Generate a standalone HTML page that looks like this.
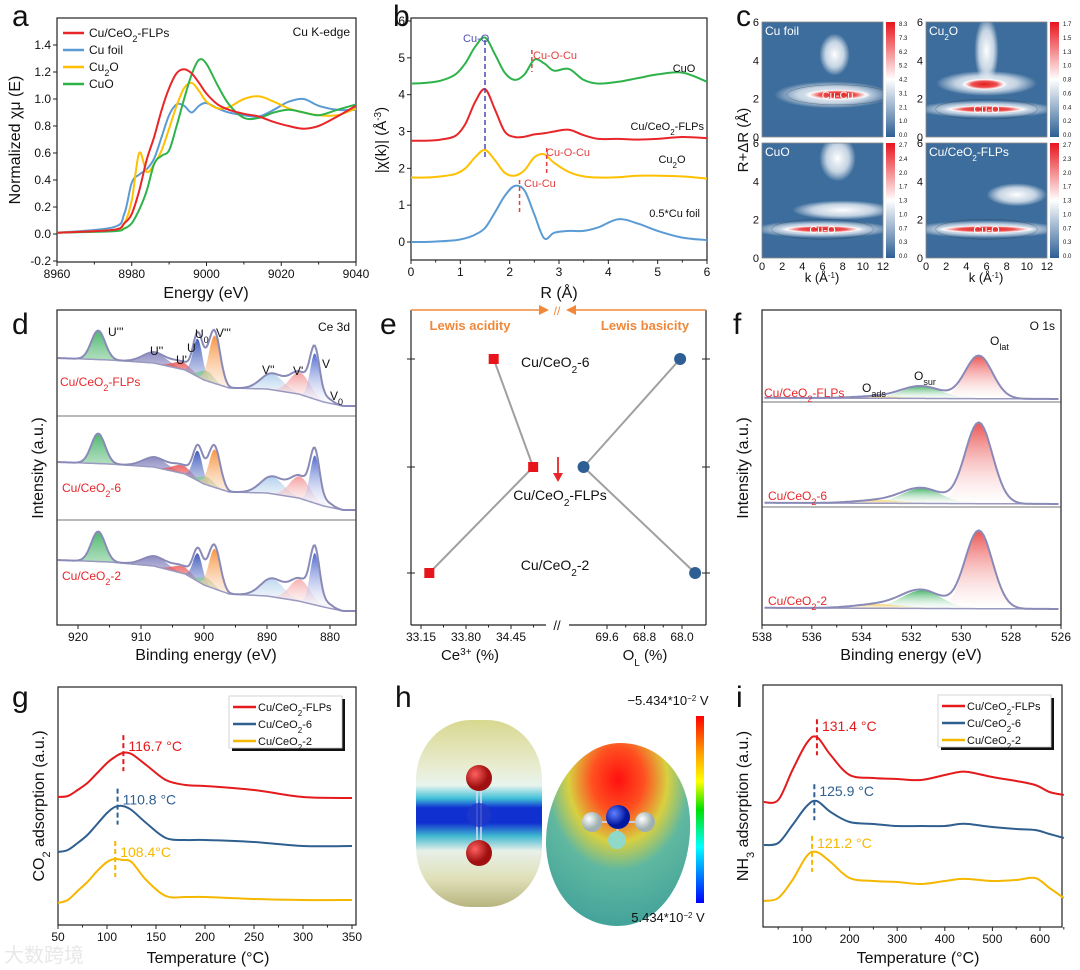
<!DOCTYPE html>
<html><head><meta charset="utf-8"><style>
html,body{margin:0;padding:0;background:#fff;}
svg{display:block;font-family:"Liberation Sans",Arial,sans-serif;}
</style></head><body>
<svg id="fig" width="1080" height="970" viewBox="0 0 1080 970" xmlns="http://www.w3.org/2000/svg">
<defs>
<radialGradient id="gw"><stop offset="0" stop-color="#fff" stop-opacity="1"/><stop offset="0.6" stop-color="#e8eef5" stop-opacity="0.8"/><stop offset="1" stop-color="#fff" stop-opacity="0"/></radialGradient>
<radialGradient id="gr"><stop offset="0" stop-color="#e02020"/><stop offset="0.55" stop-color="#ee5050"/><stop offset="0.85" stop-color="#fff" stop-opacity="0.9"/><stop offset="1" stop-color="#fff" stop-opacity="0"/></radialGradient>
<linearGradient id="cbar" x1="0" y1="0" x2="0" y2="1"><stop offset="0" stop-color="#e8141c"/><stop offset="0.5" stop-color="#ffffff"/><stop offset="1" stop-color="#2d5f95"/></linearGradient>
<linearGradient id="esp" x1="0" y1="0" x2="0" y2="1"><stop offset="0" stop-color="#ff0000"/><stop offset="0.2" stop-color="#ffa000"/><stop offset="0.35" stop-color="#ffff00"/><stop offset="0.5" stop-color="#00e000"/><stop offset="0.7" stop-color="#00ffff"/><stop offset="1" stop-color="#0000ff"/></linearGradient>
<linearGradient id="co2" x1="0" y1="0" x2="0" y2="1"><stop offset="0" stop-color="#d8d890"/><stop offset="0.25" stop-color="#e8ecd0"/><stop offset="0.35" stop-color="#e8f4ee"/><stop offset="0.42" stop-color="#40c0d8"/><stop offset="0.47" stop-color="#1030d0"/><stop offset="0.55" stop-color="#1030d0"/><stop offset="0.62" stop-color="#40b8d0"/><stop offset="0.7" stop-color="#e8f0e8"/><stop offset="0.85" stop-color="#dfe0b8"/><stop offset="1" stop-color="#b8b480"/></linearGradient>
<radialGradient id="nh3" cx="0.5" cy="0.2" r="0.9"><stop offset="0" stop-color="#ff1010"/><stop offset="0.2" stop-color="#ff5020"/><stop offset="0.38" stop-color="#d8d040"/><stop offset="0.55" stop-color="#60b8a0"/><stop offset="1" stop-color="#3a9c98"/></radialGradient>
<radialGradient id="atomO" cx="0.35" cy="0.35"><stop offset="0" stop-color="#ff6060"/><stop offset="1" stop-color="#a01010"/></radialGradient>
<radialGradient id="atomN" cx="0.35" cy="0.35"><stop offset="0" stop-color="#6080ff"/><stop offset="1" stop-color="#0018a0"/></radialGradient>
<radialGradient id="atomH" cx="0.35" cy="0.35"><stop offset="0" stop-color="#ffffff"/><stop offset="1" stop-color="#a0b0b0"/></radialGradient>
<linearGradient id="fadeR" x1="0" y1="0" x2="0" y2="1"><stop offset="0" stop-color="#e83838"/><stop offset="1" stop-color="#fff" stop-opacity="0.3"/></linearGradient>
<linearGradient id="fadeG" x1="0" y1="0" x2="0" y2="1"><stop offset="0" stop-color="#2faa55"/><stop offset="1" stop-color="#fff" stop-opacity="0.3"/></linearGradient>
<linearGradient id="fadeB" x1="0" y1="0" x2="0" y2="1"><stop offset="0" stop-color="#2040b0"/><stop offset="1" stop-color="#fff" stop-opacity="0.3"/></linearGradient>
<linearGradient id="fadeLB" x1="0" y1="0" x2="0" y2="1"><stop offset="0" stop-color="#5a9ad8"/><stop offset="1" stop-color="#fff" stop-opacity="0.3"/></linearGradient>
<linearGradient id="fadeO" x1="0" y1="0" x2="0" y2="1"><stop offset="0" stop-color="#f58220"/><stop offset="1" stop-color="#fff" stop-opacity="0.3"/></linearGradient>
<linearGradient id="fadeP" x1="0" y1="0" x2="0" y2="1"><stop offset="0" stop-color="#7a78b8"/><stop offset="1" stop-color="#fff" stop-opacity="0.3"/></linearGradient>
<linearGradient id="fadeY" x1="0" y1="0" x2="0" y2="1"><stop offset="0" stop-color="#f5c040"/><stop offset="1" stop-color="#fff" stop-opacity="0.3"/></linearGradient>
<linearGradient id="fadeN" x1="0" y1="0" x2="0" y2="1"><stop offset="0" stop-color="#3050c8"/><stop offset="1" stop-color="#fff" stop-opacity="0.3"/></linearGradient>
</defs>
</svg>
<script>
// ---------- DATA ----------
const aEnergy = [8960,8975,8978,8980,8982,8984,8986,8988,8990,8992,8994,8996,8998,9000,9003,9006,9010,9014,9018,9022,9026,9030,9035,9040];
const aFLPs  = [0.01,0.03,0.08,0.15,0.32,0.55,0.72,0.92,1.08,1.19,1.22,1.19,1.12,1.04,0.96,0.92,0.89,0.87,0.83,0.80,0.78,0.80,0.87,0.95];
const aCuFoil= [0.01,0.05,0.15,0.38,0.44,0.48,0.56,0.72,0.88,0.96,0.95,0.90,0.95,0.97,0.93,0.90,0.88,0.87,0.92,0.98,1.00,0.95,0.92,0.92];
const aCu2O  = [0.01,0.03,0.08,0.25,0.60,0.46,0.52,0.62,0.78,0.95,1.08,1.12,1.06,0.98,0.93,0.94,1.00,1.02,0.98,0.93,0.90,0.88,0.88,0.93];
const aCuO   = [0.01,0.02,0.04,0.08,0.18,0.32,0.52,0.58,0.62,0.80,1.00,1.18,1.29,1.26,1.10,0.96,0.86,0.86,0.90,0.92,0.90,0.88,0.92,0.96];
const bR = [0,0.3,0.6,0.9,1.1,1.3,1.5,1.7,1.9,2.1,2.3,2.5,2.7,2.9,3.2,3.5,3.8,4.2,4.6,5.0,5.5,6.0];
const bCuO  = [4.30,4.32,4.38,4.55,4.85,5.30,5.55,5.10,4.60,4.40,4.55,4.95,4.85,4.65,4.70,4.40,4.30,4.35,4.45,4.55,4.60,4.35];
const bFLPs = [2.75,2.75,2.78,2.88,3.20,3.80,4.15,3.60,3.00,2.85,2.86,2.92,2.95,3.00,3.05,2.90,2.80,2.80,2.78,2.80,2.85,2.82];
const bCu2O = [1.75,1.75,1.78,1.85,2.00,2.30,2.50,2.22,1.88,1.80,1.95,2.30,2.38,2.15,1.90,1.78,1.75,1.76,1.80,1.80,1.78,1.72];
const bFoil = [0.00,0.00,0.02,0.05,0.10,0.20,0.38,0.80,1.25,1.52,1.40,0.75,0.10,0.25,0.30,0.30,0.40,0.62,0.50,0.30,0.12,0.05];
const dPeakNames = ["U'''","U''","U'","U","U0","V'''","V''","V'","V","V0"];
const dCenters = [916.8,907.8,903.5,901.0,899.6,898.3,889.2,884.8,882.4,880.4];
const dSigma   = [1.1,1.9,1.5,0.75,1.1,0.9,1.8,1.6,0.75,0.9];
const dHeightsFLPs = [29,11,7,38,10,48,16,22,46,4];
const dHeights6    = [30,10,8,30,8,38,17,22,48,4];
const dHeights2    = [30,10,7,28,8,40,18,22,52,4];
const dBgBE  = [923.3,915,908,903,900,896,890,885,881,878,875.8];
const dBgFLPs= [358,360,363,370,380,388,389,394,402,406,406];
const dBg6   = [462,464,467,474,484,492,493,498,506,510,510];
const dBg2   = [560,562,566,574,585,594,596,601,607,611,611];
const eCe3 = [34.20,34.77,33.27];
const eOL  = [68.04,70.10,67.72];
const eSamples = ["Cu/CeO2-6","Cu/CeO2-FLPs","Cu/CeO2-2"];
const fCenters = [529.3,531.6,533.3];
const fSigma = [0.55,0.8,1.0];
const fHeightsFLPs = [43,12,2];
const fHeights6 = [81,15,3];
const fHeights2 = [78,18,4];
const fBaseline = [399,504,609];
const gT = [50,60,70,80,90,100,108,116,125,140,160,180,200,250,300,350];
const gFLPs = [797,796,790,783,773,763,757,753,754,765,780,785,786,790,797,798];
const g6    = [852,850,843,835,824,813,807,806,810,823,838,840,840,842,846,846];
const g2    = [903,900,891,882,871,862,859,860,862,880,896,897,897,899,900,900];
const gPeaks = [116.7,110.8,108.4];
const iT = [20,50,80,110,131,160,200,250,300,350,400,430,450,500,550,590,620,650];
const iFLPs = [802,800,770,743,737,755,775,778,779,780,775,772,772,777,781,785,792,795];
const i6    = [845,843,825,806,801,812,822,824,826,826,826,824,824,827,829,830,834,838];
const i2    = [901,898,880,856,852,862,878,881,882,884,881,879,879,881,880,878,888,898];
const iPeaks = [131.4,125.9,121.2];

// ---------- HELPERS ----------
const NS='http://www.w3.org/2000/svg';
const svg=document.getElementById('fig');
function mk(tag, attrs, name, parent){
  const e=document.createElementNS(NS,tag);
  for(const k in attrs) e.setAttribute(k,attrs[k]);
  
  
  (parent||svg).appendChild(e);
  return e;
}
function lin(d0,d1,r0,r1){return v=>r0+(v-d0)*(r1-r0)/(d1-d0);}
function txt(x,y,html,name,opts){
  opts=opts||{};
  const a={x:x,y:y,'font-size':opts.size||12,fill:opts.fill||'#111','text-anchor':opts.anchor||'start'};
  if(opts.weight) a['font-weight']=opts.weight;
  if(opts.rot) a.transform='rotate('+opts.rot+' '+x+' '+y+')';
  const t=mk('text',a,name,opts.parent);
  t.innerHTML=html;
  return t;
}
function smooth(pts){
  let d='M'+pts[0][0].toFixed(1)+','+pts[0][1].toFixed(1);
  for(let i=0;i<pts.length-1;i++){
    const p0=pts[Math.max(0,i-1)],p1=pts[i],p2=pts[i+1],p3=pts[Math.min(pts.length-1,i+2)];
    const c1=[p1[0]+(p2[0]-p0[0])/6,p1[1]+(p2[1]-p0[1])/6];
    const c2=[p2[0]-(p3[0]-p1[0])/6,p2[1]-(p3[1]-p1[1])/6];
    d+=' C'+c1[0].toFixed(1)+','+c1[1].toFixed(1)+' '+c2[0].toFixed(1)+','+c2[1].toFixed(1)+' '+p2[0].toFixed(1)+','+p2[1].toFixed(1);
  }
  return d;
}
function line(xs,ys,sx,sy,color,name,w){
  const pts=xs.map((x,i)=>[sx(x),sy(ys[i])]);
  return mk('path',{d:smooth(pts),fill:'none',stroke:color,'stroke-width':w||2,'stroke-linejoin':'round'},name);
}
function frame(x0,y0,x1,y1,name){
  return mk('rect',{x:x0,y:y0,width:x1-x0,height:y1-y0,fill:'none',stroke:'#222','stroke-width':1.2},name);
}
function xTicks(vals,sx,yb,labels,name,minor){
  vals.forEach((v,i)=>{
    mk('line',{x1:sx(v),x2:sx(v),y1:yb,y2:yb+4,stroke:'#222','stroke-width':1},name+'-tick');
    if(labels) txt(sx(v),yb+16,labels[i],name+'-label',{anchor:'middle',size:12});
  });
  (minor||[]).forEach(v=>mk('line',{x1:sx(v),x2:sx(v),y1:yb,y2:yb+2.5,stroke:'#222','stroke-width':1},name+'-minor-tick'));
}
function yTicks(vals,sy,xl,labels,name){
  vals.forEach((v,i)=>{
    mk('line',{x1:xl-4,x2:xl,y1:sy(v),y2:sy(v),stroke:'#222','stroke-width':1},name+'-tick');
    if(labels) txt(xl-6,sy(v)+4,labels[i],name+'-label',{anchor:'end',size:12});
  });
}
const rng=(a,b,s)=>{const r=[];for(let v=a;s>0?v<=b+1e-9:v>=b-1e-9;v+=s)r.push(+v.toFixed(4));return r;};
function panelLetter(x,y,l){txt(x,y,l,'panel-label-'+l,{size:30});}

// ---------- PANEL A ----------
panelLetter(12,26,'a');
const sxA=lin(8960,9040,57,356), syA=lin(0,1.4,234,45);
frame(57,18,356,262,'panel-a-frame');
const aX=rng(8960,9040,20);
xTicks(aX,sxA,262,aX.map(String),'a-x',rng(8970,9030,20));
const aY=rng(-0.2,1.4,0.2);
yTicks(aY,syA,57,aY.map(v=>v.toFixed(1)),'a-y');
txt(206,298,'Energy (eV)','a-x-title',{anchor:'middle',size:16});
txt(20,140,'Normalized χμ (E)','a-y-title',{anchor:'middle',size:16,rot:-90});
line(aEnergy,aCuFoil,sxA,syA,'#5b9bd5','a-line-cu-foil');
line(aEnergy,aCu2O,sxA,syA,'#ffc000','a-line-cu2o');
line(aEnergy,aCuO,sxA,syA,'#2db34a','a-line-cuo');
line(aEnergy,aFLPs,sxA,syA,'#e8262a','a-line-flps');
[['#e8262a','Cu/CeO<tspan baseline-shift="sub" font-size="9">2</tspan>-FLPs'],['#5b9bd5','Cu foil'],['#ffc000','Cu<tspan baseline-shift="sub" font-size="9">2</tspan>O'],['#2db34a','CuO']].forEach((e,i)=>{
  const y=33+i*17;
  mk('line',{x1:63,x2:84,y1:y,y2:y,stroke:e[0],'stroke-width':2.5},'a-legend-swatch');
  txt(89,y+4,e[1],'a-legend-entry',{size:12});
});
txt(350,36,'Cu K-edge','a-edge-label',{anchor:'end',size:12});

// ---------- PANEL B ----------
panelLetter(393,26,'b');
const sxB=lin(0,6,411,707), syB=lin(0,6,242,21);
frame(411,18,707,260,'panel-b-frame');
const bX=rng(0,6,1);
xTicks(bX,sxB,260,bX.map(String),'b-x',rng(0.5,5.5,1));
yTicks(bX,syB,411,bX.map(String),'b-y');
txt(559,298,'R (Å)','b-x-title',{anchor:'middle',size:16});
txt(386,140,'|χ(k)| (Å<tspan baseline-shift="super" font-size="10">-3</tspan>)','b-y-title',{anchor:'middle',size:15,rot:-90});
line(bR,bCuO,sxB,syB,'#2db34a','b-line-cuo');
line(bR,bFLPs,sxB,syB,'#e8262a','b-line-flps');
line(bR,bCu2O,sxB,syB,'#ffc000','b-line-cu2o');
line(bR,bFoil,sxB,syB,'#5b9bd5','b-line-cu-foil');
mk('line',{x1:sxB(1.5),x2:sxB(1.5),y1:40,y2:160,stroke:'#4a4ab0','stroke-width':1.5,'stroke-dasharray':'5,3'},'b-cu-o-marker');
txt(463,42,'Cu-O','b-cu-o-label',{size:11,fill:'#5050b8'});
mk('line',{x1:sxB(2.45),x2:sxB(2.45),y1:50,y2:72,stroke:'#e04040','stroke-width':1.5,'stroke-dasharray':'4,3'},'b-cu-o-cu-marker');
txt(533,59,'Cu-O-Cu','b-cu-o-cu-label',{size:11,fill:'#e04040'});
mk('line',{x1:sxB(2.75),x2:sxB(2.75),y1:148,y2:176,stroke:'#e04040','stroke-width':1.5,'stroke-dasharray':'4,3'},'b-cu2o-marker');
txt(546,156,'Cu-O-Cu','b-cu2o-label',{size:11,fill:'#e04040'});
mk('line',{x1:sxB(2.2),x2:sxB(2.2),y1:180,y2:215,stroke:'#e04040','stroke-width':1.5,'stroke-dasharray':'4,3'},'b-cu-cu-marker');
txt(524,187,'Cu-Cu','b-cu-cu-label',{size:11,fill:'#e04040'});
txt(684,72,'CuO','b-cuo-label',{size:11,anchor:'middle'});
txt(704,130,'Cu/CeO<tspan baseline-shift="sub" font-size="8">2</tspan>-FLPs','b-flps-label',{size:11,anchor:'end'});
txt(672,163,'Cu<tspan baseline-shift="sub" font-size="8">2</tspan>O','b-cu2o-name',{size:11,anchor:'middle'});
txt(700,217,'0.5*Cu foil','b-foil-label',{size:11,anchor:'end'});

// ---------- PANEL C ----------
panelLetter(736,26,'c');
const cMaps=[
 {x:762,y:22,name:'Cu foil',ticks:['8.3','7.3','6.2','5.2','4.2','3.1','2.1','1.0','0.0'],
  blobs:[['gw',7,2.2,5.8,0.7],['gw',7.2,4.3,1.5,1.1],['gr',7.5,2.2,3.3,0.28]],lab:['Cu-Cu',7.5,2.2]},
 {x:926,y:22,name:'Cu<tspan baseline-shift="sub" font-size="8">2</tspan>O',ticks:['1.7','1.5','1.3','1.0','0.8','0.6','0.4','0.2','0.0'],
  blobs:[['gw',6,4.5,1.2,1.8],['gw',6,2.8,5,0.65],['gr',5.8,2.75,2.3,0.3],['gw',6,1.45,7,0.45],['gr',6,1.45,4.2,0.2]],lab:['Cu-O',6,1.45]},
 {x:762,y:143,name:'CuO',ticks:['2.7','2.4','2.0','1.7','1.3','1.0','0.7','0.3','0.0'],
  blobs:[['gw',7.5,5.2,1.8,1.2],['gw',8,2.5,5,0.5],['gw',6,1.5,7,0.45],['gr',6,1.5,4.2,0.2]],lab:['Cu-O',6,1.5]},
 {x:926,y:143,name:'Cu/CeO<tspan baseline-shift="sub" font-size="8">2</tspan>-FLPs',ticks:['2.7','2.3','2.0','1.7','1.3','1.0','0.7','0.3','0.0'],
  blobs:[['gw',9,3.3,3,0.6],['gw',6,1.5,7.5,0.45],['gr',6,1.5,5,0.2]],lab:['Cu-O',6,1.5]}
];
cMaps.forEach((m,mi)=>{
  const W=121,H=115;
  const skx=lin(0,12,m.x,m.x+W), sky=lin(0,6,m.y+H,m.y);
  const cid='clipc'+mi;
  const cp=mk('clipPath',{id:cid},'c-clip');
  mk('rect',{x:m.x,y:m.y,width:W,height:H},'c-clip-rect',cp);
  const g=mk('g',{'clip-path':'url(#'+cid+')'},'c-heatmap-'+mi);
  mk('rect',{x:m.x,y:m.y,width:W,height:H,fill:'#3d6d9c'},'c-heatmap-bg',g);
  m.blobs.forEach(b=>{
    mk('ellipse',{cx:skx(b[1]),cy:sky(b[2]),rx:(skx(b[3])-skx(0)),ry:(sky(0)-sky(b[4])),fill:'url(#'+b[0]+')'},'c-heatmap-blob',g);
  });
  mk('ellipse',{cx:skx(m.lab[1]),cy:sky(m.lab[2]),rx:W*0.42,ry:10,fill:'none',stroke:'#333','stroke-width':0.5,opacity:0.5},'c-contour',g);
  mk('rect',{x:m.x,y:m.y+H-18,width:W,height:18,fill:'#3d6d9c',opacity:0.6},'c-low-band',g);
  txt(skx(m.lab[1]),sky(m.lab[2])+4,m.lab[0],'c-peak-label',{size:11,fill:'#fff',anchor:'middle'});
  txt(m.x+3,m.y+13,m.name,'c-map-title',{size:12,fill:'#fff'});
  mk('rect',{x:m.x,y:m.y,width:W,height:H,fill:'none',stroke:'#888','stroke-width':0.8},'c-map-frame');
  mk('rect',{x:m.x+124,y:m.y,width:9,height:H,fill:'url(#cbar)'},'c-colorbar');
  m.ticks.forEach((t,i)=>txt(m.x+137,m.y+4+i*(H-4)/8,t,'c-colorbar-tick',{size:6}));
  [0,2,4,6].forEach(v=>txt(m.x-3,sky(v)+4,String(v),'c-y-label',{size:11,anchor:'end'}));
  if(mi>=2) rng(0,12,2).forEach(v=>txt(skx(v),m.y+H+12,String(v),'c-x-label',{size:11,anchor:'middle'}));
});
txt(822,282,'k (Å<tspan baseline-shift="super" font-size="8">-1</tspan>)','c-x-title-left',{size:13,anchor:'middle'});
txt(986,282,'k (Å<tspan baseline-shift="super" font-size="8">-1</tspan>)','c-x-title-right',{size:13,anchor:'middle'});
txt(748,140,'R+ΔR (Å)','c-y-title',{size:15,anchor:'middle',rot:-90});

// ---------- PANEL D ----------
panelLetter(12,334,'d');
const sxD=lin(920,880,78,330);
frame(57,310,356,625,'panel-d-frame');
[416,520].forEach(y=>mk('line',{x1:57,x2:356,y1:y,y2:y,stroke:'#444','stroke-width':0.8},'d-separator'));
const dX=rng(920,880,-10);
xTicks(dX,sxD,625,dX.map(String),'d-x',rng(915,885,-10));
txt(206,660,'Binding energy (eV)','d-x-title',{anchor:'middle',size:16});
txt(43,468,'Intensity (a.u.)','d-y-title',{anchor:'middle',size:16,rot:-90});
const dFills=['url(#fadeG)','url(#fadeP)','url(#fadeR)','url(#fadeB)','url(#fadeG)','url(#fadeO)','url(#fadeLB)','url(#fadeR)','url(#fadeN)','url(#fadeP)'];
function bgAt(E,bgY){for(let i=0;i<dBgBE.length-1;i++){if(E<=dBgBE[i]&&E>=dBgBE[i+1]){const t=(dBgBE[i]-E)/(dBgBE[i]-dBgBE[i+1]);return bgY[i]+t*(bgY[i+1]-bgY[i]);}}return bgY[bgY.length-1];}
function drawXPS(Es,bgFn,centers,heights,sigma,fills,sx,name){
  centers.forEach((c,k)=>{
    let top='',bot=[];
    Es.forEach((E,j)=>{const b=bgFn(E);const y=b-heights[k]*Math.exp(-0.5*Math.pow((E-c)/sigma[k],2));top+=(j?'L':'M')+sx(E).toFixed(1)+','+y.toFixed(1);bot.push(sx(E).toFixed(1)+','+b.toFixed(1));});
    mk('path',{d:top+'L'+bot.reverse().join('L')+'Z',fill:fills[k],opacity:0.85,stroke:'none'},name+'-component');
  });
  let env='',base='';
  Es.forEach((E,j)=>{const b=bgFn(E);let s=0;centers.forEach((c,k)=>s+=heights[k]*Math.exp(-0.5*Math.pow((E-c)/sigma[k],2)));env+=(j?'L':'M')+sx(E).toFixed(1)+','+(b-s).toFixed(1);base+=(j?'L':'M')+sx(E).toFixed(1)+','+b.toFixed(1);});
  mk('path',{d:base,fill:'none',stroke:'#9a9ac0','stroke-width':1.5},name+'-background');
  mk('path',{d:env,fill:'none',stroke:'#8a8ab8','stroke-width':2},name+'-envelope');
}
const dEs=rng(923.2,875.9,-0.2);
drawXPS(dEs,E=>bgAt(E,dBgFLPs),dCenters,dHeightsFLPs,dSigma,dFills,sxD,'d-flps');
drawXPS(dEs,E=>bgAt(E,dBg6),dCenters,dHeights6,dSigma,dFills,sxD,'d-ceo2-6');
drawXPS(dEs,E=>bgAt(E,dBg2),dCenters,dHeights2,dSigma,dFills,sxD,'d-ceo2-2');
txt(350,331,'Ce 3d','d-ce3d-label',{anchor:'end',size:12});
const dLabPos=[[108,336],[150,355],[176,364],[187,352],[195,338],[216,337],[262,374],[293,375],[322,368],[330,400]];
const dLabTxt=["U'''","U''","U'","U",'U<tspan baseline-shift="sub" font-size="9">0</tspan>',"V'''","V''","V'","V",'V<tspan baseline-shift="sub" font-size="9">0</tspan>'];
dLabPos.forEach((p,i)=>txt(p[0],p[1],dLabTxt[i],'d-peak-label',{size:12}));
txt(60,386,'Cu/CeO<tspan baseline-shift="sub" font-size="9">2</tspan>-FLPs','d-flps-label',{size:12,fill:'#e8262a'});
txt(62,492,'Cu/CeO<tspan baseline-shift="sub" font-size="9">2</tspan>-6','d-ceo2-6-label',{size:12,fill:'#e8262a'});
txt(62,580,'Cu/CeO<tspan baseline-shift="sub" font-size="9">2</tspan>-2','d-ceo2-2-label',{size:12,fill:'#e8262a'});

// ---------- PANEL E ----------
panelLetter(380,334,'e');
const sxE1=lin(33.15,34.45,421,511), sxE2=lin(69.6,68.0,607,682);
const eRowY=[359,467,573];
mk('line',{x1:411,x2:411,y1:310,y2:625,stroke:'#222','stroke-width':1.2},'e-left-axis');
mk('line',{x1:706,x2:706,y1:310,y2:625,stroke:'#222','stroke-width':1.2},'e-right-axis');
mk('line',{x1:411,x2:546,y1:625,y2:625,stroke:'#222','stroke-width':1.2},'e-bottom-axis-left');
mk('line',{x1:569,x2:706,y1:625,y2:625,stroke:'#222','stroke-width':1.2},'e-bottom-axis-right');
txt(557,630,'//','e-axis-break',{size:13,anchor:'middle'});
mk('line',{x1:411,x2:543,y1:310,y2:310,stroke:'#f0883a','stroke-width':1.5},'e-acidity-arrow');
mk('path',{d:'M549,310 L539,305 L539,315Z',fill:'#f0883a'},'e-acidity-arrowhead');
mk('line',{x1:572,x2:706,y1:310,y2:310,stroke:'#f0883a','stroke-width':1.5},'e-basicity-arrow');
mk('path',{d:'M566,310 L576,305 L576,315Z',fill:'#f0883a'},'e-basicity-arrowhead');
txt(557,315,'//','e-top-break',{size:12,anchor:'middle',fill:'#f0883a'});
txt(470,330,'Lewis acidity','e-acidity-label',{size:13,anchor:'middle',fill:'#f0883a',weight:'bold'});
txt(645,330,'Lewis basicity','e-basicity-label',{size:13,anchor:'middle',fill:'#f0883a',weight:'bold'});
eRowY.forEach(y=>{mk('line',{x1:407,x2:415,y1:y,y2:y,stroke:'#222'},'e-left-tick');mk('line',{x1:702,x2:710,y1:y,y2:y,stroke:'#222'},'e-right-tick');});
const eX1=[33.15,33.80,34.45], eX2=[69.6,68.8,68.0];
xTicks(eX1,sxE1,625,eX1.map(v=>v.toFixed(2)),'e-x-ce',[33.475,34.125,34.775]);
xTicks(eX2,sxE2,625,eX2.map(v=>v.toFixed(1)),'e-x-ol',[69.2,68.4]);
txt(470,660,'Ce<tspan baseline-shift="super" font-size="10">3+</tspan> (%)','e-x-title-ce',{size:15,anchor:'middle'});
txt(645,660,'O<tspan baseline-shift="sub" font-size="10">L</tspan> (%)','e-x-title-ol',{size:15,anchor:'middle'});
for(let i=0;i<2;i++){
  mk('line',{x1:sxE1(eCe3[i]),y1:eRowY[i],x2:sxE1(eCe3[i+1]),y2:eRowY[i+1],stroke:'#a0a0a0','stroke-width':2},'e-ce-connector');
  mk('line',{x1:sxE2(eOL[i]),y1:eRowY[i],x2:sxE2(eOL[i+1]),y2:eRowY[i+1],stroke:'#a0a0a0','stroke-width':2},'e-ol-connector');
}
eCe3.forEach((v,i)=>mk('rect',{x:sxE1(v)-5,y:eRowY[i]-5,width:10,height:10,fill:'#e8141c'},'e-ce-point-'+i));
eOL.forEach((v,i)=>mk('circle',{cx:sxE2(v),cy:eRowY[i],r:6,fill:'#2d5f95'},'e-ol-point-'+i));
txt(521,367,'Cu/CeO<tspan baseline-shift="sub" font-size="10">2</tspan>-6','e-label-6',{size:14});
txt(560,500,'Cu/CeO<tspan baseline-shift="sub" font-size="10">2</tspan>-FLPs','e-label-flps',{size:14,anchor:'middle'});
txt(555,570,'Cu/CeO<tspan baseline-shift="sub" font-size="10">2</tspan>-2','e-label-2',{size:14,anchor:'middle'});
mk('line',{x1:558,x2:558,y1:457,y2:476,stroke:'#e8262a','stroke-width':1.8},'e-arrow-shaft');
mk('path',{d:'M553,473 L558,482 L563,473Z',fill:'#e8262a'},'e-arrow-head');

// ---------- PANEL F ----------
panelLetter(733,334,'f');
const sxF=lin(538,526,762,1061);
frame(762,310,1061,625,'panel-f-frame');
[402,507].forEach(y=>mk('line',{x1:762,x2:1061,y1:y,y2:y,stroke:'#444','stroke-width':0.8},'f-separator'));
const fX=rng(538,526,-2);
xTicks(fX,sxF,625,fX.map(String),'f-x',rng(537,527,-2));
txt(911,660,'Binding energy (eV)','f-x-title',{anchor:'middle',size:16});
txt(748,468,'Intensity (a.u.)','f-y-title',{anchor:'middle',size:16,rot:-90});
const fEs=rng(537.9,526.1,-0.1);
const fFills=['url(#fadeR)','url(#fadeG)','url(#fadeY)'];
drawXPS(fEs,E=>fBaseline[0]-(E-526)*0.1,fCenters,fHeightsFLPs,fSigma,fFills,sxF,'f-flps');
drawXPS(fEs,E=>fBaseline[1]-(E-526)*0.1,fCenters,fHeights6,fSigma,fFills,sxF,'f-ceo2-6');
drawXPS(fEs,E=>fBaseline[2]-(E-526)*0.1,fCenters,fHeights2,fSigma,fFills,sxF,'f-ceo2-2');
txt(1055,330,'O 1s','f-o1s-label',{anchor:'end',size:12});
txt(862,392,'O<tspan baseline-shift="sub" font-size="9">ads</tspan>','f-oads-label',{size:12});
txt(914,380,'O<tspan baseline-shift="sub" font-size="9">sur</tspan>','f-osur-label',{size:12});
txt(990,345,'O<tspan baseline-shift="sub" font-size="9">lat</tspan>','f-olat-label',{size:12});
txt(764,397,'Cu/CeO<tspan baseline-shift="sub" font-size="9">2</tspan>-FLPs','f-flps-label',{size:12,fill:'#e8262a'});
txt(768,500,'Cu/CeO<tspan baseline-shift="sub" font-size="9">2</tspan>-6','f-ceo2-6-label',{size:12,fill:'#e8262a'});
txt(768,605,'Cu/CeO<tspan baseline-shift="sub" font-size="9">2</tspan>-2','f-ceo2-2-label',{size:12,fill:'#e8262a'});

// ---------- TPD PANELS ----------
function tpd(T,series,peaks,sx,fr,prefix,legendBox,labOff){
  frame(fr[0],fr[1],fr[2],fr[3],prefix+'-frame');
  const cols=['#e41a1c','#2f5f8f','#f5b700'];
  series.forEach((s,k)=>{
    const pts=T.map((t,i)=>[sx(t),s[i]]);
    mk('path',{d:smooth(pts),fill:'none',stroke:cols[k],'stroke-width':2},prefix+'-line-'+k);
    let y=s[0];
    for(let i=0;i<T.length-1;i++){if(peaks[k]>=T[i]&&peaks[k]<=T[i+1]){y=s[i]+(s[i+1]-s[i])*(peaks[k]-T[i])/(T[i+1]-T[i]);}}
    mk('line',{x1:sx(peaks[k]),x2:sx(peaks[k]),y1:y-18,y2:y+18,stroke:cols[k],'stroke-width':2,'stroke-dasharray':'5,3'},prefix+'-peak-marker-'+k);
    txt(sx(peaks[k])+5,y+labOff,peaks[k].toFixed(1)+(k==2&&prefix=='g'?'°C':' °C'),prefix+'-peak-label-'+k,{size:14,fill:cols[k]});
  });
  const [lx,ly,lw,lh]=legendBox;
  mk('rect',{x:lx+3,y:ly+3,width:lw,height:lh,fill:'#111'},prefix+'-legend-shadow');
  mk('rect',{x:lx,y:ly,width:lw,height:lh,fill:'#fff',stroke:'#ccc','stroke-width':0.8},prefix+'-legend-box');
  ['Cu/CeO<tspan baseline-shift="sub" font-size="8">2</tspan>-FLPs','Cu/CeO<tspan baseline-shift="sub" font-size="8">2</tspan>-6','Cu/CeO<tspan baseline-shift="sub" font-size="8">2</tspan>-2'].forEach((l,k)=>{
    const y=ly+11+k*17;
    mk('line',{x1:lx+4,x2:lx+27,y1:y,y2:y,stroke:cols[k],'stroke-width':2.5},prefix+'-legend-swatch');
    txt(lx+29,y+4,l,prefix+'-legend-entry',{size:11});
  });
}
panelLetter(12,707,'g');
const sxG=lin(50,350,58,352);
tpd(gT,[gFLPs,g6,g2],gPeaks,sxG,[58,687,356,925],'g',[229,696,113,52],-2);
const gX=rng(50,350,50);
xTicks(gX,sxG,925,gX.map(String),'g-x',rng(75,325,50));
txt(208,963,'Temperature (°C)','g-x-title',{anchor:'middle',size:16});
txt(44,806,'CO<tspan baseline-shift="sub" font-size="11">2</tspan> adsorption (a.u.)','g-y-title',{anchor:'middle',size:16,rot:-90});
txt(4,962,'大数跨境','watermark',{size:20,fill:'#e8e8e8'});

panelLetter(736,707,'i');
const sxI=lin(100,600,802,1040);
tpd(iT,[iFLPs,i6,i2],iPeaks,sxI,[763,685,1062,927],'i',[938,695,113,52],-6);
const iX=rng(100,600,100);
xTicks(iX,sxI,927,iX.map(String),'i-x',rng(50,650,100));
txt(918,963,'Temperature (°C)','i-x-title',{anchor:'middle',size:16});
txt(748,806,'NH<tspan baseline-shift="sub" font-size="11">3</tspan> adsorption (a.u.)','i-y-title',{anchor:'middle',size:16,rot:-90});

// ---------- PANEL H ----------
panelLetter(395,707,'h');
mk('rect',{x:416,y:720,width:126,height:187,rx:55,ry:60,fill:'url(#co2)'},'h-co2-surface');
mk('line',{x1:477,x2:477,y1:785,y2:850,stroke:'#dde',"stroke-width":1.5},'h-co2-bond-1');
mk('line',{x1:481,x2:481,y1:785,y2:850,stroke:'#dde',"stroke-width":1.5},'h-co2-bond-2');
mk('circle',{cx:479,cy:778,r:13,fill:'url(#atomO)'},'h-co2-oxygen-top');
mk('circle',{cx:479,cy:815,r:12,fill:'#2038c8',opacity:0.8},'h-co2-carbon');
mk('circle',{cx:479,cy:853,r:13,fill:'url(#atomO)'},'h-co2-oxygen-bottom');
mk('path',{d:'M620,743 C660,743 688,775 690,820 C692,870 665,928 615,926 C575,924 548,890 546,845 C545,790 580,743 620,743Z',fill:'url(#nh3)'},'h-nh3-surface');
mk('line',{x1:592,y1:822,x2:645,y2:822,stroke:'#ccd','stroke-width':2},'h-nh3-bond-h');
mk('line',{x1:618,y1:818,x2:617,y2:840,stroke:'#ccd','stroke-width':2},'h-nh3-bond-v');
mk('circle',{cx:592,cy:822,r:10,fill:'url(#atomH)'},'h-nh3-hydrogen-left');
mk('circle',{cx:645,cy:822,r:10,fill:'url(#atomH)'},'h-nh3-hydrogen-right');
mk('circle',{cx:617,cy:840,r:9,fill:'#90d8c8'},'h-nh3-hydrogen-bottom');
mk('circle',{cx:618,cy:817,r:12,fill:'url(#atomN)'},'h-nh3-nitrogen');
mk('rect',{x:696,y:716,width:8,height:187,fill:'url(#esp)'},'h-colorbar');
txt(668,705,'−5.434*10<tspan baseline-shift="super" font-size="8">−2</tspan> V','h-colorbar-max',{size:13,anchor:'middle'});
txt(668,922,'5.434*10<tspan baseline-shift="super" font-size="8">−2</tspan> V','h-colorbar-min',{size:13,anchor:'middle'});
</script>
</body></html>
